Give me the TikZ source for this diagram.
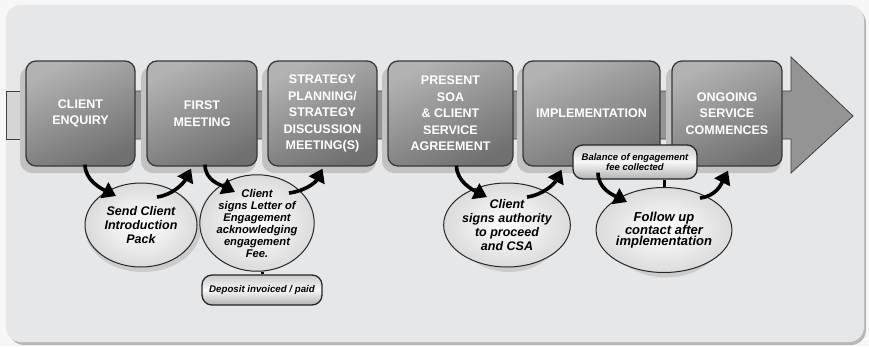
\documentclass[tikz,border=0pt]{standalone}
\usepackage{fontspec}
\setmainfont{Liberation Sans}
\usetikzlibrary{arrows.meta,shapes.geometric,calc}
\definecolor{panel}{HTML}{E6E7E8}
\begin{document}
\begin{tikzpicture}[x=1pt,y=-1pt,
  stagebox/.style={rectangle, rounded corners=10pt, draw=black!78, line width=1.3pt,
    top color=black!30, bottom color=black!56, shading angle=25,
    text=white, font=\fontsize{12.5}{16.5}\selectfont\bfseries, align=center,
    inner sep=0pt, minimum height=105pt},
  bubble/.style={ellipse, draw=black!85, line width=1pt, inner color=white, outer color=black!14,
    align=center, inner sep=0pt},
  notebox/.style={rectangle, rounded corners=10pt, draw=black!85, line width=1.3pt,
    top color=black!20, bottom color=black!30, middle color=black!3,
    align=center, inner sep=0pt},
  swoosh/.style={line width=3.6pt, black, -{Triangle[length=13pt,width=17pt]}},
  link/.style={line width=3pt, black}]
\useasboundingbox (0,0) rectangle (869,346);
% background panel
\fill[black!3] (0,0) rectangle (869,346);
\fill[black!28, rounded corners=15pt] (9,8) rectangle (866,345);
\fill[panel, rounded corners=15pt] (6,5) rectangle (864,342);
% band with arrow head
\filldraw[fill=black!16, draw=black!75, line width=0.8pt] (6,91) rectangle (22,139);
\filldraw[fill=black!42, draw=black!75, line width=0.8pt]
  (22,91) -- (791,91) -- (791,57) -- (853,116) -- (791,173) -- (791,139) -- (22,139) -- cycle;
% box shadows
\foreach \xa/\xb in {26/135,147/257,268/377,388/513,523/660,672/782}
  \fill[black!24, rounded corners=12pt] (\xa-6,66) rectangle (\xb-1,173);
% stage boxes
\node[stagebox, minimum width=109pt] (b1) at (80.5,113.5) {CLIENT\\ENQUIRY};
\node[stagebox, minimum width=110pt] (b2) at (202,113.5) {FIRST\\MEETING};
\node[stagebox, minimum width=109pt] (b3) at (322.5,113.5) {STRATEGY\\PLANNING/\\STRATEGY\\DISCUSSION\\MEETING(S)};
\node[stagebox, minimum width=125pt] (b4) at (450.5,113.5) {PRESENT\\SOA\\\&~CLIENT\\SERVICE\\AGREEMENT};
\node[stagebox, minimum width=137pt] (b5) at (591.5,113.5) {IMPLEMENTATION};
\node[stagebox, minimum width=110pt] (b6) at (727,113.5) {ONGOING\\SERVICE\\COMMENCES};
% ellipse halos
\fill[black!20] (143,228) ellipse [x radius=58pt, y radius=44pt];
\fill[black!20] (259,226) ellipse [x radius=51pt, y radius=45.5pt];
\fill[black!20] (509,228) ellipse [x radius=53pt, y radius=44pt];
\fill[black!20] (666,233) ellipse [x radius=58pt, y radius=44.5pt];
% ellipses
\node[bubble, minimum width=112pt, minimum height=84pt, font=\fontsize{12.5}{14}\selectfont\bfseries\itshape]
  (e1) at (141,225) {Send Client\\Introduction\\Pack};
\node[bubble, minimum width=98pt, minimum height=87pt, font=\fontsize{11.2}{12}\selectfont\bfseries\itshape]
  (e2) at (257,223) {Client\\signs Letter of\\Engagement\\acknowledging\\engagement\\Fee.};
\node[bubble, minimum width=102pt, minimum height=84pt, font=\fontsize{12.5}{14.3}\selectfont\bfseries\itshape]
  (e3) at (507,225) {Client\\signs authority\\to proceed\\and CSA};
\node[bubble, minimum width=112pt, minimum height=85pt, font=\fontsize{13}{11.5}\selectfont\bfseries\itshape]
  (e4) at (664,230) {Follow up\\contact after\\implementation};
% note boxes
\node[notebox, minimum width=120pt, minimum height=30pt, font=\fontsize{9.7}{11}\selectfont\bfseries\itshape]
  (dep) at (262,290) {Deposit invoiced / paid};
\node[notebox, minimum width=124pt, minimum height=34pt, font=\fontsize{9.5}{10.5}\selectfont\bfseries\itshape]
  (bal) at (635,162) {Balance of engagement\\fee collected};
% links
\draw[link] (dep.north |- e2.south) -- (dep.north);
\draw[link] (e4.north) -- (e4.north |- bal.south);
% swoosh arrows
\draw[swoosh] ($(b1.south)+(4.5,-2)$) .. controls +(0,16) and +(-14,-7) .. ($(e1.center)+(-25,-29)$);
\draw[swoosh] ($(e1.center)+(16,-28)$) .. controls +(16,-2) and +(-7,14) .. ($(b2.south)+(-11,2)$);
\draw[swoosh] ($(b2.south)+(3,-2)$) .. controls +(0,16) and +(-14,-7) .. ($(e2.center)+(-22,-31)$);
\draw[swoosh] ($(e2.center)+(32,-30)$) .. controls +(16,-2) and +(-7,14) .. ($(b3.south)+(0,2)$);
\draw[swoosh] ($(b4.south)+(6,-1)$) .. controls +(0,16) and +(-14,-7) .. ($(e3.center)+(-20,-28)$);
\draw[swoosh] ($(e3.center)+(20,-28)$) .. controls +(16,-2) and +(-7,14) .. ($(b5.south)+(-30,3)$);
\draw[swoosh] ($(bal.south)+(-37,-7)$) .. controls +(0,16) and +(-14,-7) .. ($(e4.center)+(-37,-28)$);
\draw[swoosh] ($(e4.center)+(36,-32)$) .. controls +(16,-2) and +(-7,14) .. ($(b6.south)+(1,4)$);
\end{tikzpicture}
\end{document}
